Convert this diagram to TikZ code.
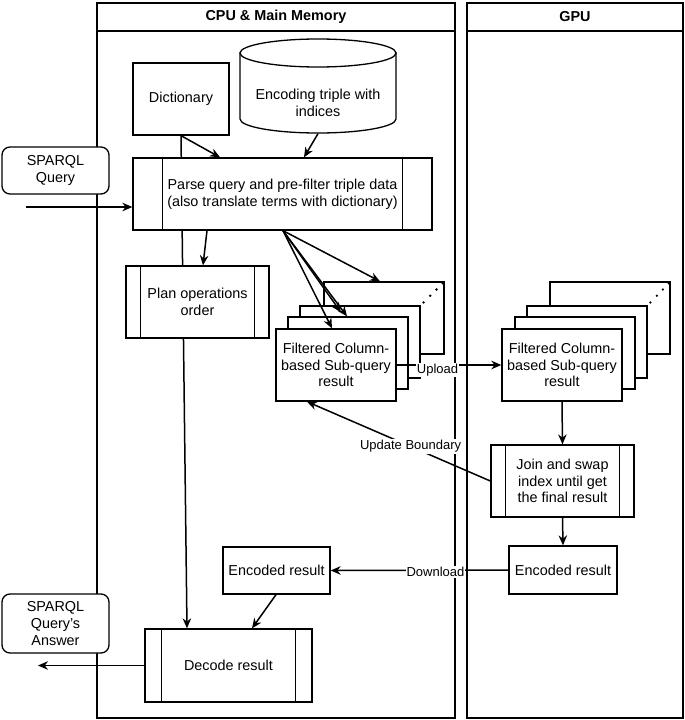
\documentclass[tikz,border=0pt]{standalone}
\usepackage{fontspec}
\setmainfont{Liberation Sans}
\usetikzlibrary{arrows.meta,calc}
\pgfdeclarelayer{background}
\pgfsetlayers{background,main}
\begin{document}
\begin{tikzpicture}[x=1pt,y=-1pt, line width=1.3pt,
  font=\fontsize{14.4}{16.8}\selectfont,
  box/.style={draw, fill=white, inner sep=0pt, align=center},
  lane/.style={draw, inner sep=0pt},
  arr/.style={line width=1.5pt, draw=black, -{Stealth[length=10pt,width=8.5pt]}},
  lbl/.style={fill=white, inner sep=1pt, font=\fontsize{13}{15}\selectfont},
  stackbox/.style={box, minimum width=120pt, minimum height=72pt},
  dot/.style={fill=black}
]
\useasboundingbox (0,0) rectangle (685,720);

% lanes
\node[lane, minimum width=358pt, minimum height=715pt] (cpu) at (276,360.5) {};
\draw (97,31) -- (455,31);
\node[font=\bfseries\fontsize{14.4}{16.8}\selectfont] (cputitle) at (276,17) {CPU \& Main Memory};
\node[lane, minimum width=216pt, minimum height=715pt] (gpu) at (575,360.5) {};
\draw (467,31) -- (683,31);
\node[font=\bfseries\fontsize{14.4}{16.8}\selectfont] (gputitle) at (575,17) {GPU};

% nodes
\node[box, minimum width=96pt, minimum height=72pt] (dict) at (181,99) {Dictionary};

\node[inner sep=0pt, minimum width=156pt, minimum height=94pt] (cyl) at (318,86) {};
\draw[fill=white] (240,53) -- (240,119) arc[start angle=180, end angle=360, x radius=78pt, y radius=14pt] -- (396,53) -- cycle;
\draw[fill=white] (318,53) ellipse [x radius=78pt, y radius=14pt];
\node[align=center] (cyltext) at (318,103) {Encoding triple with\\indices};

\node[box, rounded corners=8pt, minimum width=107pt, minimum height=47pt] (query) at (55.5,170.5) {SPARQL\\Query};
\node[box, minimum width=299pt, minimum height=72pt] (parse) at (282.5,194) {Parse query and pre-filter triple data\\(also translate terms with dictionary)};
\node[box, minimum width=143pt, minimum height=72pt] (plan) at (197.5,302) {Plan operations\\order};

% left stack
\node[stackbox] (Lb) at (384,318) {};
\node[stackbox] (L2) at (360,342) {};
\node[stackbox] (L3) at (348,353) {};
\node[stackbox] (Lf) at (336,365) {Filtered Column-\\based Sub-query\\result};
\foreach \t in {0.12,0.4,0.66,0.92}
  \fill[dot] ($(L2.north east)!\t!(Lb.north east)$) circle (1.3pt);

% right stack
\node[stackbox] (Rb) at (610,318) {};
\node[stackbox] (R2) at (587,342) {};
\node[stackbox] (R3) at (575,353) {};
\node[stackbox] (Rf) at (562,365) {Filtered Column-\\based Sub-query\\result};
\foreach \t in {0.12,0.4,0.66,0.92}
  \fill[dot] ($(R2.north east)!\t!(Rb.north east)$) circle (1.3pt);

\node[box, minimum width=143pt, minimum height=72pt] (join) at (562.5,481) {Join and swap\\index until get\\the final result};
\node[box, minimum width=108pt, minimum height=48pt] (encG) at (563,570) {Encoded result};
\node[box, minimum width=107pt, minimum height=47pt] (encC) at (276.5,570.5) {Encoded result};
\node[box, minimum width=167pt, minimum height=73pt] (decode) at (228.5,665.5) {Decode result};
\node[box, rounded corners=8pt, minimum width=107pt, minimum height=59pt] (answer) at (55.5,623.5) {SPARQL\\Query's\\Answer};

% process inner lines
\foreach \n/\d in {parse/30, plan/15, join/15, decode/17} {
  \draw ([xshift=\d pt]\n.north west) -- ([xshift=\d pt]\n.south west);
  \draw ([xshift=-\d pt]\n.north east) -- ([xshift=-\d pt]\n.south east);
}

% connectors
\begin{pgfonlayer}{background}
\draw[arr] (dict.south) -- ([xshift=-41.5pt]decode.north);
\end{pgfonlayer}
\draw[arr] (dict.south) -- ([xshift=-62.5pt]parse.north);
\draw[arr] (cyl.south) -- ([xshift=21.5pt]parse.north);
\coordinate (qin) at (26,207);
\draw[arr] (qin) -- (qin -| parse.west);
\draw[arr] ([xshift=-75.5pt]parse.south) -- ([xshift=5.5pt]plan.north);
\coordinate (fan) at ([xshift=0.5pt]parse.south);
\draw[arr] (fan) -- ([xshift=-4pt]Lb.north);
\draw[arr] (fan) -- ([xshift=-19pt,yshift=-7pt]L2.north);
\draw[arr] (fan) -- ([xshift=-1pt]L3.north);
\draw[arr] (fan) -- ([xshift=-4pt]Lf.north);
\draw[arr] (Lf.east) -- (Rf.west) node[lbl, pos=0.39, yshift=-5pt] {Upload};
\draw[arr] (Rf.south) -- (join.north);
\draw[arr] (join.south) -- (encG.north);
\draw[arr] (join.west) -- ([xshift=-29pt]Lf.south) node[lbl, pos=0.435] {Update Boundary};
\draw[arr] (encG.west) -- (encC.east) node[lbl, pos=0.41, yshift=-2pt] {Download};
\draw[arr] ([xshift=-0.5pt]encC.south) -- ([xshift=23.5pt]decode.north);
\coordinate (aout) at (38,665.5);
\draw[arr] (decode.west) -- (aout);
\end{tikzpicture}
\end{document}
